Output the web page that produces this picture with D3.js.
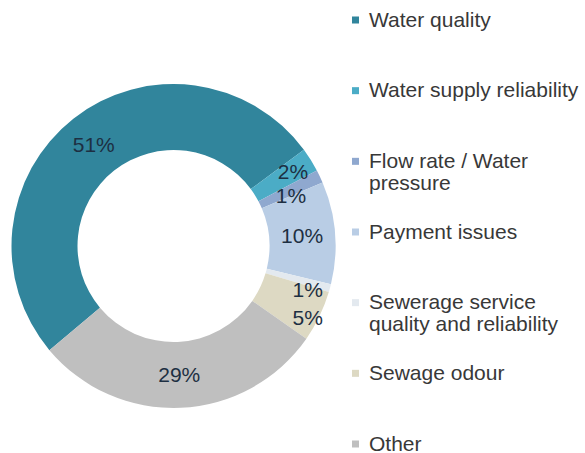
<!DOCTYPE html>
<html>
<head>
<meta charset="utf-8">
<script src="https://cdn.jsdelivr.net/npm/d3@7"></script>
<style>
  html, body { margin: 0; padding: 0; background: #fff; }
  svg { display: block; font-family: Arial, "Liberation Sans", sans-serif; }
</style>
</head>
<body>
<svg id="chart" width="585" height="453"></svg>
<script>
// Complaint categories and their shares (%)
const categories = [
  "Water quality",
  "Water supply reliability",
  "Flow rate / Water pressure",
  "Payment issues",
  "Sewerage service quality and reliability",
  "Sewage odour",
  "Other"
];
const shares = [51.0, 2.4, 1.3, 10.2, 0.8, 5.1, 29.2];
const valueLabels = ["51%", "2%", "1%", "10%", "1%", "5%", "29%"];
// Legend text, broken into lines
const legendLines = [
  ["Water quality"],
  ["Water supply reliability"],
  ["Flow rate / Water", "pressure"],
  ["Payment issues"],
  ["Sewerage service", "quality and reliability"],
  ["Sewage odour"],
  ["Other"]
];
const palette = ["#31859c", "#4bacc6", "#8fa8cf", "#b9cde5", "#e3e9ef", "#ddd9c3", "#bfbfbf"];

const svg = d3.select("#chart");
const cx = 173.5, cy = 246, outerR = 162, innerR = 96;
const deg = Math.PI / 180;

const color = d3.scaleOrdinal().domain(categories).range(palette);

const data = categories.map((c, i) => ({ category: c, value: shares[i], label: valueLabels[i] }));

const pie = d3.pie()
  .sort(null)
  .value(d => d.value)
  .startAngle(-130 * deg)
  .endAngle(230 * deg);

const arc = d3.arc().innerRadius(innerR).outerRadius(outerR);

const g = svg.append("g").attr("transform", `translate(${cx},${cy})`);
const arcs = pie(data);

g.selectAll("path.slice")
  .data(arcs)
  .join("path")
  .attr("class", "slice")
  .attr("d", arc)
  .attr("fill", d => color(d.data.category));

// Data labels sit mid-ring; the thin slices get pushed apart a little
const labelR = (innerR + outerR) / 2;
const labelNudge = {
  "Water supply reliability": [12, 0],
  "Flow rate / Water pressure": [-1, 2],
  "Sewerage service quality and reliability": [12, 2.7],
  "Sewage odour": [23, 2.3]
};
function labelPos(d) {
  const [dr, da] = labelNudge[d.data.category] || [0, 0];
  const a = (d.startAngle + d.endAngle) / 2 + da * deg;
  return [(labelR + dr) * Math.sin(a), -(labelR + dr) * Math.cos(a)];
}
g.selectAll("text.val")
  .data(arcs)
  .join("text")
  .attr("class", "val")
  .attr("text-anchor", "middle")
  .attr("dy", "0.36em")
  .attr("font-size", 21)
  .attr("fill", "#1d2f42")
  .attr("x", d => labelPos(d)[0])
  .attr("y", d => labelPos(d)[1])
  .text(d => d.data.label);

// Legend
const legendY = d3.scalePoint().domain(categories).range([20, 444]);
const legend = svg.append("g");
const items = legend.selectAll("g.item")
  .data(categories)
  .join("g")
  .attr("class", "item")
  .attr("transform", c => `translate(352,${legendY(c)})`);

items.append("rect")
  .attr("x", 0).attr("y", -3.5)
  .attr("width", 7).attr("height", 7)
  .attr("fill", c => color(c));

items.append("text")
  .attr("x", 17)
  .attr("y", 6.5)
  .attr("font-size", 21)
  .attr("fill", "#383838")
  .selectAll("tspan")
  .data((c, i) => legendLines[i])
  .join("tspan")
  .attr("x", 17)
  .attr("dy", (d, j) => j === 0 ? 0 : 22)
  .text(d => d);
</script>
</body>
</html>
